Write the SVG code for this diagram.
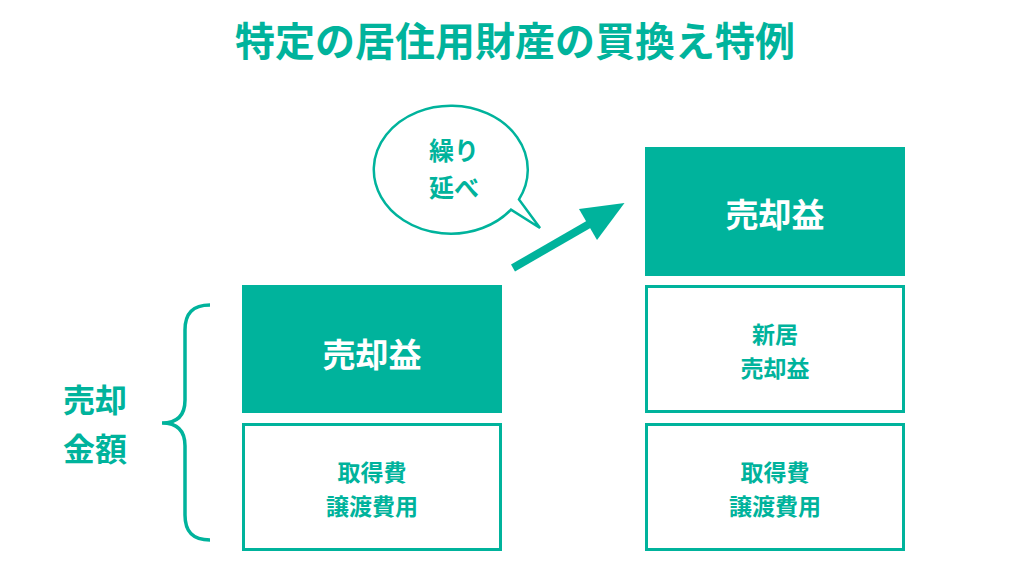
<svg xmlns="http://www.w3.org/2000/svg" width="1024" height="585" viewBox="0 0 1024 585">
<style>
text{font-family:"Noto Sans CJK JP","Noto Sans",sans-serif;font-weight:bold;text-anchor:middle;dominant-baseline:central}
.g{fill:#00b39c}
.w{fill:#ffffff}
.s{font-size:23px}
.fill{fill:#00b39c;stroke:none}
.out{fill:#ffffff;stroke:#00b39c;stroke-width:3}
.ln{fill:none;stroke:#00b39c}
</style>
<rect width="1024" height="585" fill="#ffffff"/>
<text id="title" class="g" x="515" y="39" font-size="40">特定の居住用財産の買換え特例</text>
<g id="left-label">
<text class="g" x="95" y="398" font-size="32">売却</text>
<text class="g" x="95" y="447" font-size="32">金額</text>
</g>
<g id="brace">
<path class="ln" stroke-width="3.5" d="M210,305 C192,305 185,314 185,330 L185,400 C185,415 178,423 162,423 C178,423 185,431 185,446 L185,515 C185,531 192,540 210,540"/>
</g>
<g id="left-gain">
<rect class="fill" x="242" y="285" width="260" height="128"/>
<text class="w" x="372" y="353" font-size="33">売却益</text>
</g>
<g id="left-cost">
<rect class="out" x="243.5" y="424.5" width="257" height="125"/>
<text class="g s" x="372" y="471">取得費</text>
<text class="g s" x="372" y="505">譲渡費用</text>
</g>
<g id="bubble">
<path class="ln" stroke-width="2.5" fill="#ffffff" d="M519,199.4 A77,64 0 1 0 511,209.6 L540,228 Z"/>
<text class="g" x="454" y="149" font-size="25">繰り</text>
<text class="g" x="454" y="186" font-size="25">延べ</text>
</g>
<g id="connectors">
<line class="ln" stroke-width="8" x1="513" y1="268" x2="598" y2="219"/>
<polygon class="fill" points="624.5,203 579,209 597,240"/>
</g>
<g id="right-gain">
<rect class="fill" x="645" y="147" width="260" height="129"/>
<text class="w" x="775" y="213" font-size="33">売却益</text>
</g>
<g id="right-new">
<rect class="out" x="646.5" y="286.5" width="257" height="125"/>
<text class="g s" x="775" y="333">新居</text>
<text class="g s" x="775" y="367">売却益</text>
</g>
<g id="right-cost">
<rect class="out" x="646.5" y="424.5" width="257" height="125"/>
<text class="g s" x="775" y="471">取得費</text>
<text class="g s" x="775" y="505">譲渡費用</text>
</g>
</svg>
